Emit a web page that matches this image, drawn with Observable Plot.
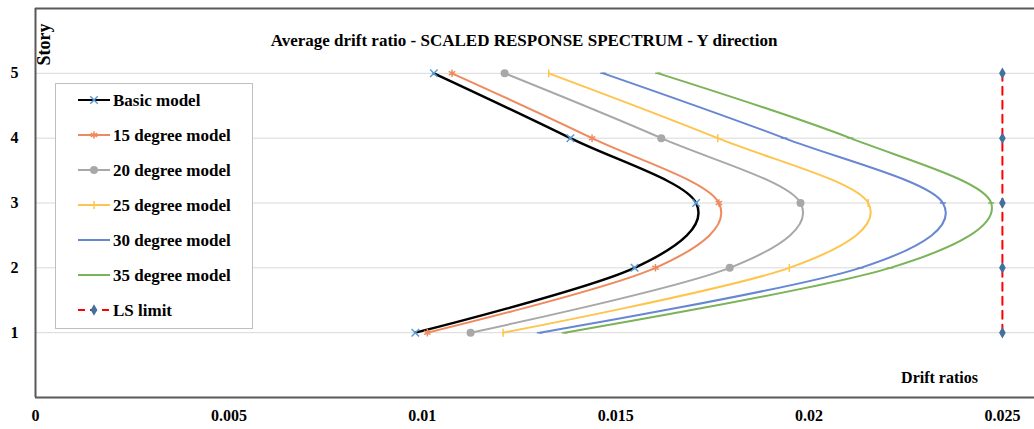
<!DOCTYPE html>
<html><head><meta charset="utf-8">
<script src="https://cdn.jsdelivr.net/npm/d3@7"></script>
<script src="https://cdn.jsdelivr.net/npm/@observablehq/plot@0.6"></script>
<style>
html,body{margin:0;padding:0;background:#fff;}
#wrap{position:relative;width:1034px;height:429px;overflow:hidden;}
#legend{position:absolute;left:55px;top:83px;}
</style></head><body><div id="wrap"></div>
<script>
// ---- data ----
const stories = [1, 2, 3, 4, 5];
const seriesNames = ["Basic model", "15 degree model", "20 degree model", "25 degree model", "30 degree model", "35 degree model"];
const basicModel = [0.00982, 0.01549, 0.01708, 0.01383, 0.01030];
const deg15Model = [0.01013, 0.01603, 0.01767, 0.01439, 0.01077];
const deg20Model = [0.01125, 0.01795, 0.01978, 0.01618, 0.01213];
const deg25Model = [0.01209, 0.01949, 0.02153, 0.01764, 0.01327];
const deg30Model = [0.01304, 0.02133, 0.02346, 0.01936, 0.01468];
const deg35Model = [0.01368, 0.02210, 0.02471, 0.02107, 0.01610];
const lsLimitName = "LS limit";
const lsLimit = [0.025, 0.025, 0.025, 0.025, 0.025];
const xTicks = [0, 0.005, 0.01, 0.015, 0.02, 0.025];
const yTicks = [1, 2, 3, 4, 5];
const xDomain = [0, 0.02583];
const yDomain = [0, 6];
const titleText = "Average drift ratio - SCALED RESPONSE SPECTRUM - Y direction";
const xLabel = "Drift ratios";
const yLabel = "Story";

// ---- styles ----
const lineColors = ["#000000", "#EF8A5E", "#A8A8A8", "#FFC44D", "#6787D2", "#7BB358"];
const markColors = ["#5B9BD5", "#EF8A5E", "#A8A8A8", "#FFC44D", "#6787D2", "#7BB358"];
const lsColor = "#FF0000", lsMark = "#41719C";
const FONT = "'Liberation Serif', 'Times New Roman', serif";

const hDash = {draw(ctx, size) { const l = Math.sqrt(size / Math.PI); ctx.moveTo(-l, 0); ctx.lineTo(l, 0); }};
const vDash = {draw(ctx, size) { const l = Math.sqrt(size / Math.PI); ctx.moveTo(0, -l); ctx.lineTo(0, l); }};
const symbols = ["times", "asterisk", "circle", vDash, hDash, hDash];
const radii = [3.5, 3.5, 4, 4, 3, 3];

const allValues = [basicModel, deg15Model, deg20Model, deg25Model, deg30Model, deg35Model];
const rows = allValues.flatMap((vals, i) => stories.map((s, j) => ({series: seriesNames[i], idx: i, story: s, drift: vals[j]})));
const lsRows = stories.map((s, j) => ({series: lsLimitName, story: s, drift: lsLimit[j]}));

const marks = [
  Plot.ruleY(yTicks, {stroke: "#D9D9D9", strokeWidth: 1}),
  Plot.ruleX([xDomain[0]], {stroke: "#595959", strokeWidth: 2}),
  Plot.ruleY(yDomain, {stroke: "#595959", strokeWidth: 2}),
  Plot.line(lsRows, {x: "drift", y: "story", stroke: lsColor, strokeWidth: 2, strokeDasharray: "8,6"}),
  Plot.dot(lsRows, {x: "drift", y: "story", symbol: "diamond", r: 3.5, fill: lsMark, stroke: "none"})
];
seriesNames.forEach((name, i) => {
  const data = rows.filter(d => d.idx === i);
  marks.push(Plot.line(data, {x: "drift", y: "story", stroke: lineColors[i], strokeWidth: i === 0 ? 2.4 : 2, curve: "cardinal", tension: 0}));
});
seriesNames.forEach((name, i) => {
  const data = rows.filter(d => d.idx === i);
  const filled = symbols[i] === "circle";
  marks.push(Plot.dot(data, {x: "drift", y: "story", symbol: symbols[i], r: radii[i],
    fill: filled ? markColors[i] : "none", stroke: filled ? "none" : markColors[i], strokeWidth: 1.5}));
});
marks.push(
  Plot.text([titleText], {frameAnchor: "top", lineAnchor: "middle", dx: -11, dy: 32, fontSize: 17, fontWeight: "bold", fill: "#000"}),
  Plot.text([xLabel], {frameAnchor: "bottom-right", textAnchor: "middle", lineAnchor: "middle", dx: -95, dy: -20, fontSize: 16, fontWeight: "bold", fill: "#000"}),
  Plot.text([yLabel], {frameAnchor: "top-left", rotate: -90, textAnchor: "end", lineAnchor: "middle", dx: 9, dy: 15, fontSize: 18, fontWeight: "bold", fill: "#000"})
);

const chart = Plot.plot({
  width: 1034, height: 429,
  marginLeft: 35, marginRight: 0, marginTop: 8, marginBottom: 32,
  style: {fontFamily: FONT, fontSize: "16px", fontWeight: "bold", color: "#000", background: "#fff", overflow: "visible"},
  x: {domain: xDomain, ticks: xTicks, tickFormat: d => String(d), tickSize: 0, tickPadding: 12, label: null},
  y: {domain: yDomain, ticks: yTicks, tickFormat: d => String(d), tickSize: 0, tickPadding: 17, label: null},
  marks
});
document.getElementById("wrap").appendChild(chart);

// ---- legend ----
const lg = d3.select("#wrap").append("svg").attr("id", "legend").attr("width", 199).attr("height", 247);
lg.append("rect").attr("x", 0.5).attr("y", 0.5).attr("width", 197).attr("height", 245).attr("fill", "#fff").attr("stroke", "#BFBFBF");
const items = seriesNames.map((n, i) => ({name: n, i})).concat([{name: lsLimitName, i: -1}]);
items.forEach((it, k) => {
  const y = 17 + 35 * k;
  const g = lg.append("g");
  if (it.i >= 0) {
    g.append("line").attr("x1", 23).attr("x2", 55).attr("y1", y).attr("y2", y).attr("stroke", lineColors[it.i]).attr("stroke-width", 2);
    const sym = symbols[it.i];
    const symType = sym === "times" ? d3.symbolTimes : sym === "asterisk" ? d3.symbolAsterisk : sym === "circle" ? d3.symbolCircle : sym;
    const filled = sym === "circle";
    g.append("path").attr("transform", `translate(39,${y})`)
      .attr("d", d3.symbol(symType, radii[it.i] * radii[it.i] * Math.PI)())
      .attr("fill", filled ? markColors[it.i] : "none").attr("stroke", filled ? "none" : markColors[it.i]).attr("stroke-width", 1.5);
  } else {
    g.append("line").attr("x1", 23).attr("x2", 55).attr("y1", y).attr("y2", y).attr("stroke", lsColor).attr("stroke-width", 2).attr("stroke-dasharray", "7,5");
    g.append("path").attr("transform", `translate(39,${y})`).attr("d", d3.symbol(d3.symbolDiamond, 3.5 * 3.5 * Math.PI)()).attr("fill", lsMark);
  }
  g.append("text").attr("x", 58).attr("y", y).attr("dy", "0.35em")
    .attr("font-family", FONT).attr("font-weight", "bold").attr("font-size", 17).attr("fill", "#000").text(it.name);
});
</script></body></html>
